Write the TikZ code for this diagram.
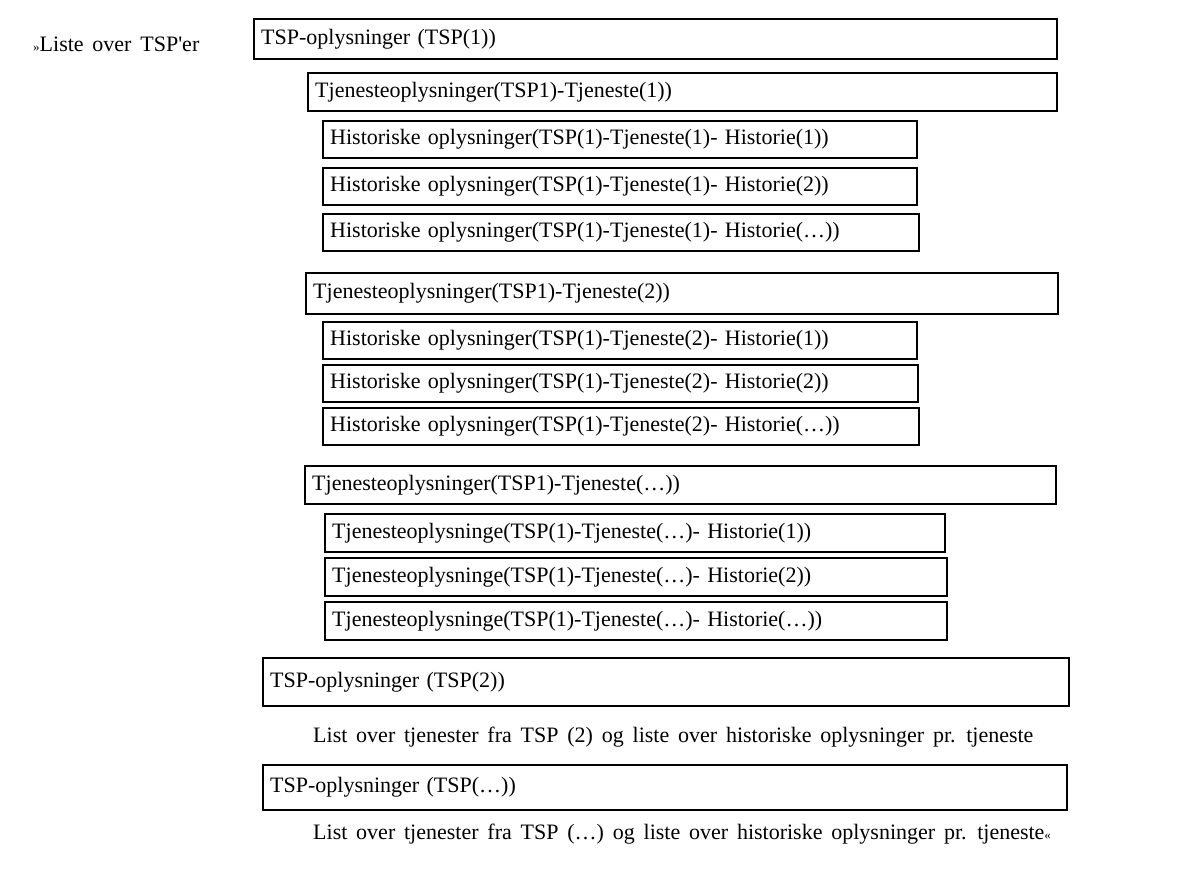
\documentclass[tikz,border=0pt]{standalone}
\usepackage{fontspec}
\setmainfont[WordSpace=1.6]{Liberation Serif}
\usepackage{tikz}
\usetikzlibrary{positioning}
\tikzset{
  cell/.style={draw=black,line width=2.4pt,anchor=north west,
               inner xsep=7pt,inner ysep=0pt,align=left,
               font=\fontsize{22}{24}\selectfont},
  tspbox/.style={cell,minimum height=40pt},
  svcbox/.style={cell,minimum height=38pt},
  histbox/.style={cell,minimum height=37pt},
  note/.style={anchor=west,inner sep=0pt,font=\fontsize{22}{24}\selectfont},
}
\begin{document}
\begin{tikzpicture}[x=1pt,y=-1pt]
  \useasboundingbox (0,0) rectangle (1195,873);

  \node[note] (title) at (33,44) {\fontsize{13}{13}\selectfont »\fontsize{22}{24}\selectfont Liste over TSP\textquotesingle er};

  % TSP(1)
  \node[tspbox,text width=789pt] (TSP1) at (253,18) {TSP-oplysninger (TSP(1))};

  % Tjeneste(1)
  \node[svcbox,text width=735pt] (S1) at (307,72) {Tjenesteoplysninger(TSP1)-Tjeneste(1))};
  \node[histbox,text width=580pt] (H11) at (322,120) {Historiske oplysninger(TSP(1)-Tjeneste(1)- Historie(1))};
  \node[histbox,text width=580pt] (H12) at (322,167) {Historiske oplysninger(TSP(1)-Tjeneste(1)- Historie(2))};
  \node[histbox,text width=582pt] (H13) at (322,213) {Historiske oplysninger(TSP(1)-Tjeneste(1)- Historie(\dots))};

  % Tjeneste(2)
  \node[svcbox,text width=738pt,minimum height=41pt] (S2) at (305,272) {Tjenesteoplysninger(TSP1)-Tjeneste(2))};
  \node[histbox,text width=580pt] (H21) at (322,321) {Historiske oplysninger(TSP(1)-Tjeneste(2)- Historie(1))};
  \node[histbox,text width=581pt] (H22) at (322,364) {Historiske oplysninger(TSP(1)-Tjeneste(2)- Historie(2))};
  \node[histbox,text width=582pt] (H23) at (322,407) {Historiske oplysninger(TSP(1)-Tjeneste(2)- Historie(\dots))};

  % Tjeneste(...)
  \node[svcbox,text width=737pt] (S3) at (304,465) {Tjenesteoplysninger(TSP1)-Tjeneste(\dots))};
  \node[histbox,text width=606pt,minimum height=38pt] (H31) at (324,513) {Tjenesteoplysninge(TSP(1)-Tjeneste(\dots)- Historie(1))};
  \node[histbox,text width=608pt,minimum height=38pt] (H32) at (324,557) {Tjenesteoplysninge(TSP(1)-Tjeneste(\dots)- Historie(2))};
  \node[histbox,text width=608pt,minimum height=38pt] (H33) at (324,601) {Tjenesteoplysninge(TSP(1)-Tjeneste(\dots)- Historie(\dots))};

  % TSP(2)
  \node[tspbox,text width=792pt,minimum height=48pt] (TSP2) at (262,657) {TSP-oplysninger (TSP(2))};
  \node[note] (L2) at (313,737) {List over tjenester fra TSP (2) og liste over historiske oplysninger pr. tjeneste};

  % TSP(...)
  \node[tspbox,text width=790pt,minimum height=45pt] (TSP3) at (262,764) {TSP-oplysninger (TSP(\dots))};
  \node[note] (L3) at (313,834) {List over tjenester fra TSP (\dots) og liste over historiske oplysninger pr. tjeneste\fontsize{13}{13}\selectfont «};
\end{tikzpicture}
\end{document}
